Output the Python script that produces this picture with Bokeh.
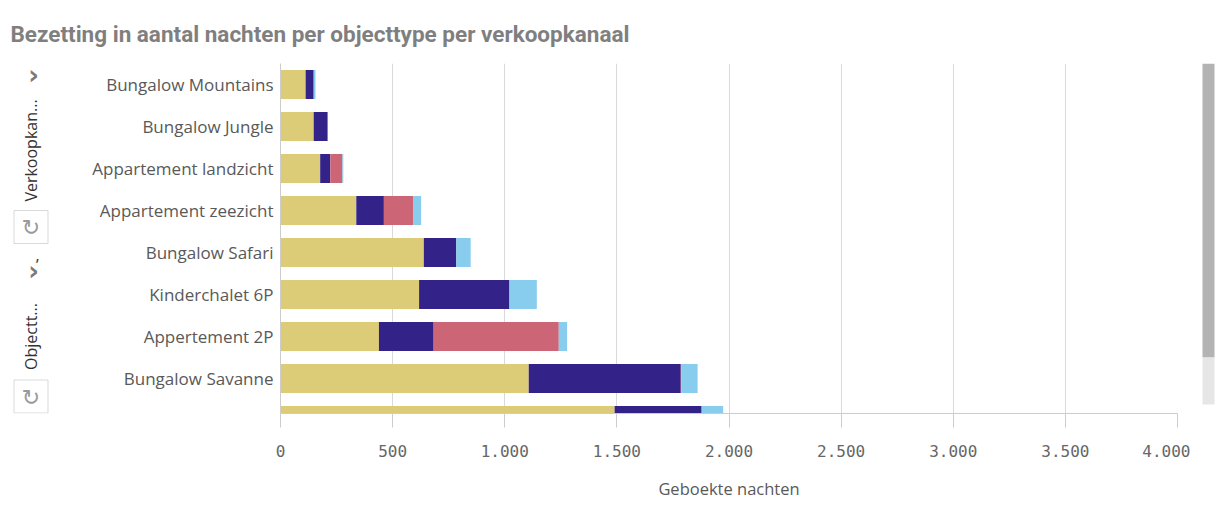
from bokeh.plotting import figure
from bokeh.models import ColumnDataSource, Range1d, FixedTicker
from bokeh.layouts import column, row
from bokeh.core.properties import value
from bokeh.embed import file_html
from bokeh.resources import INLINE
from math import pi

# ---- data ----
categories = ["Bungalow Mountains", "Bungalow Jungle", "Appartement landzicht",
              "Appartement zeezicht", "Bungalow Safari", "Kinderchalet 6P",
              "Appertement 2P", "Bungalow Savanne", ""]
kanaal_1 = [112, 148, 177, 338, 639, 618, 439, 1107, 1490]
kanaal_2 = [36, 62, 45, 123, 145, 403, 244, 678, 388]
kanaal_3 = [0, 0, 54, 132, 0, 0, 558, 3, 0]
kanaal_4 = [8, 0, 4, 34, 64, 122, 37, 72, 96]
series_names = ["kanaal_1", "kanaal_2", "kanaal_3", "kanaal_4"]
series_colors = ["#DDCC77", "#332288", "#CC6677", "#88CCEE"]
x_ticks = [0, 500, 1000, 1500, 2000, 2500, 3000, 3500, 4000]
x_tick_labels = ["0", "500", "1.000", "1.500", "2.000", "2.500", "3.000", "3.500", "4.000"]
title_text = "Bezetting in aantal nachten per objecttype per verkoopkanaal"
dimension_labels = ["Verkoopkan...", "Objectt..."]

positions = list(range(len(categories)))
src = ColumnDataSource(dict(y=positions, kanaal_1=kanaal_1, kanaal_2=kanaal_2,
                            kanaal_3=kanaal_3, kanaal_4=kanaal_4))

TOP = 50          # height of the title strip
H2 = 509 - TOP    # height of the chart row
FT, FB = 63, 413  # page y of frame top / bottom
B_TOP = FT - TOP
B_BOT = 509 - FB


def deco_fig(w, h, x0, y_top, y_bot, bt=0, bb=0):
    f = figure(width=w, height=h, output_backend="svg", toolbar_location=None, tools="",
               x_range=Range1d(x0, x0 + w), y_range=Range1d(y_bot, y_top),
               x_axis_location=None, y_axis_location=None,
               min_border=0, min_border_left=0, min_border_right=0,
               min_border_top=bt, min_border_bottom=bb)
    f.outline_line_color = None
    f.xgrid.visible = False
    f.ygrid.visible = False
    return f


# ---- title strip (page coordinates) ----
t = deco_fig(1221, TOP, 0, 0, TOP)
t.text(x=[10], y=[33], text=[title_text], text_font=value("Roboto"),
       text_font_style="bold", text_font_size="22.5px", text_color="#7f7f7f",
       text_align="left", text_baseline="middle")

# ---- left dimension controls (page coordinates) ----
u = deco_fig(60, H2, 0, FT, FB, B_TOP, B_BOT)
u.text(x=[33, 33], y=[74, 270], text=["›", "›"], text_font=value("DejaVu Sans"),
       text_font_style="bold", text_font_size="26px", text_color="#7a7a7a",
       text_align="center", text_baseline="middle")
u.text(x=[30, 30], y=[150, 336], text=dimension_labels, angle=pi / 2,
       text_font=value("Open Sans"), text_font_size="16px", text_color="#333333",
       text_align="center", text_baseline="middle")
u.text(x=[37], y=[254], text=[","], text_font=value("Open Sans"),
       text_font_size="16px", text_color="#333333", text_align="center",
       text_baseline="middle")
u.quad(left=[13.5, 13.5], right=[47.5, 47.5], top=[210, 379.5],
       bottom=[243, 412.5], fill_color="white", line_color="#d9d9d9", line_width=1)
u.text(x=[30.5, 30.5], y=[227, 396.5], text=["↻", "↻"],
       text_font=value("DejaVu Sans"), text_font_size="22px", text_color="#9a9a9a",
       text_align="center", text_baseline="middle")

# ---- main chart ----
MW = 1190 - 60
p = figure(width=MW, height=H2, output_backend="svg", toolbar_location=None, tools="",
           x_range=Range1d(0, 4000), y_range=Range1d(7.833, -0.5),
           min_border_left=220, min_border_right=13, min_border_top=B_TOP,
           min_border_bottom=B_BOT)
p.outline_line_color = None

p.hbar_stack(series_names, y="y", height=0.69, color=series_colors, source=src,
             line_color=None)

xa = p.xaxis[0]
xa.ticker = FixedTicker(ticks=x_ticks)
xa.major_label_overrides = {tk: lb for tk, lb in zip(x_ticks, x_tick_labels)}
xa.axis_line_color = "#cccccc"
xa.major_tick_line_color = "#cccccc"
xa.major_tick_in = 0
xa.major_tick_out = 14
xa.minor_tick_line_color = None
xa.major_label_text_font = "DejaVu Sans Mono"
xa.major_label_text_font_size = "16px"
xa.major_label_text_color = "#666666"
xa.major_label_standoff = 17
xa.axis_label = "Geboekte nachten"
xa.axis_label_text_font = "Open Sans"
xa.axis_label_text_font_style = "normal"
xa.axis_label_text_font_size = "16.5px"
xa.axis_label_text_color = "#595959"
xa.axis_label_standoff = 17

ya = p.yaxis[0]
ya.ticker = FixedTicker(ticks=positions)
ya.major_label_overrides = {i: c for i, c in enumerate(categories)}
ya.axis_line_color = "#cccccc"
ya.major_tick_line_color = None
ya.major_tick_out = 0
ya.major_tick_in = 0
ya.minor_tick_line_color = None
ya.major_label_text_font = "Open Sans"
ya.major_label_text_font_size = "17px"
ya.major_label_text_color = "#595959"
ya.major_label_standoff = 7

p.xgrid.grid_line_color = "#d9d9d9"
p.xgrid.ticker = FixedTicker(ticks=x_ticks)
p.ygrid.grid_line_color = None

# ---- scrollbar strip (page coordinates) ----
s = deco_fig(1221 - 1190, H2, 1190, FT, FB, B_TOP, B_BOT)
s.quad(left=[1202], right=[1214], top=[63], bottom=[357],
       fill_color="#b3b3b3", line_color=None)
s.quad(left=[1202], right=[1214], top=[357], bottom=[404],
       fill_color="#e6e6e6", line_color=None)

layout = column(t, row(u, p, s, spacing=0), spacing=0)
open("out.html", "w").write(file_html(layout, INLINE))
